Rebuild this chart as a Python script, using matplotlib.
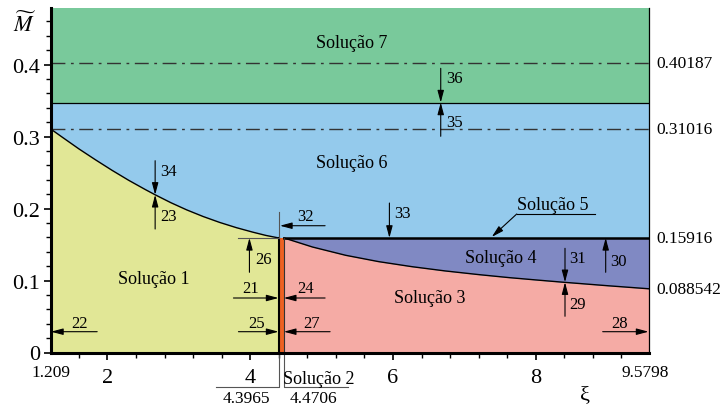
import numpy as np
import matplotlib
matplotlib.use("Agg")
import matplotlib.pyplot as plt
from matplotlib.ticker import MultipleLocator

plt.rcParams.update({
    "font.family": "serif",
    "font.serif": ["Liberation Serif", "DejaVu Serif"],
    "mathtext.fontset": "stix",
    "font.size": 12,
})

# --- data ---
XI_MIN, XI_MAX = 1.209, 9.5798
XI_A, XI_B = 4.3965, 4.4706          # limits of Solução 2
M_7 = 0.40187
M_6 = 0.31016
M_5 = 0.15916
M_END = 0.088542
M_TOP_SPLIT = 0.3472                 # boundary between Solução 6 and 7

# upper branch (Solução 1 / Solução 6 boundary)
xi_1 = [1.209, 1.369, 1.600, 1.833, 2.065, 2.297, 2.529, 2.669, 2.890,
        3.110, 3.340, 3.574, 3.806, 4.038, 4.220, 4.3965]
m_1 = [0.31016, 0.2989, 0.2828, 0.2676, 0.2530, 0.2392, 0.2264, 0.2190,
       0.2080, 0.1981, 0.1889, 0.1806, 0.1734, 0.1671, 0.1626, 0.15916]

# lower branch (Solução 3 / Solução 4 boundary)
xi_2 = [4.4706, 4.873, 5.338, 5.800, 6.266, 6.730, 7.200, 7.627, 8.000,
        8.360, 9.000, 9.5798]
m_2 = [0.15916, 0.1465, 0.1350, 0.1262, 0.1192, 0.1133, 0.1082, 0.1040,
       0.1008, 0.0978, 0.0928, 0.088542]

x_major = [2, 4, 6, 8]
y_major = [0, 0.1, 0.2, 0.3, 0.4]
y_major_labels = ["0", "0.1", "0.2", "0.3", "0.4"]
right_levels = [M_7, M_6, M_5, M_END]
right_labels = ["0.40187", "0.31016", "0.15916", "0.088542"]

c_green = "#79C99B"
c_blue = "#94CAEC"
c_yellow = "#E1E796"
c_purple = "#8089C3"
c_pink = "#F5ABA5"
c_orange = "#EE6122"

fig = plt.figure(figsize=(7.24, 4.10), dpi=100)
W, H = 724, 410
ax = fig.add_axes([51 / W, 1 - 353.5 / H, (648.5 - 51) / W, (353.5 - 9) / H])
ax.set_xlim(XI_MIN, XI_MAX)
ax.set_ylim(0, 0.4785)

# regions
ax.fill_between([XI_MIN, XI_MAX], M_TOP_SPLIT, 0.4785, color=c_green, lw=0)
ax.fill_between([XI_MIN, XI_MAX], 0, M_TOP_SPLIT, color=c_blue, lw=0)
ax.fill_between(xi_1, 0, m_1, color=c_yellow, lw=0)
ax.fill_between([XI_A, XI_B], 0, M_5, color=c_orange, lw=0)
ax.fill_between(xi_2, 0, m_2, color=c_pink, lw=0)
ax.fill_between(xi_2, m_2, M_5, color=c_purple, lw=0)

# boundaries
ax.plot(xi_1, m_1, color="k", lw=1.0)
ax.plot(xi_2, m_2, color="k", lw=1.0)
ax.plot([XI_B, XI_MAX], [M_5, M_5], color="k", lw=1.8)
ax.plot([XI_MIN, XI_MAX], [M_TOP_SPLIT, M_TOP_SPLIT], color="k", lw=0.9)
ax.plot([XI_A, XI_A], [0, M_5], color="k", lw=1.5)
ax.plot([XI_B, XI_B], [0, M_5], color="#333333", lw=0.8)
for lvl in (M_7, M_6):
    ax.plot([XI_MIN, XI_MAX], [lvl, lvl], color="#333333", lw=1.0,
            linestyle=(0, (10, 4, 2, 4)))

# spines and ticks
for s in ("left", "bottom"):
    ax.spines[s].set_linewidth(2.2)
ax.spines["right"].set_linewidth(0.9)
ax.spines["top"].set_visible(False)
ax.set_xticks(x_major)
ax.xaxis.set_minor_locator(MultipleLocator(0.4))
ax.set_yticks(y_major)
ax.set_yticklabels(y_major_labels)
ax.yaxis.set_minor_locator(MultipleLocator(0.02))
ax.tick_params(which="major", direction="out", length=5, width=1.2,
               labelsize=16, pad=3)
ax.tick_params(axis="x", which="major", pad=6)
ax.tick_params(which="minor", direction="out", length=3.5, width=1.0)
ax.tick_params(right=False, top=False)

aprops = dict(arrowstyle="-|>,head_length=0.6,head_width=0.16", color="k",
              lw=0.8, shrinkA=0, shrinkB=0, mutation_scale=12)


def arrow(x0, y0, x1, y1, num, tx, ty):
    ax.annotate("", xy=(x1, y1), xytext=(x0, y0), arrowprops=aprops)
    ax.text(tx, ty, num, ha="center", va="center", fontsize=12)


# horizontal arrows near the bottom
arrow(1.856, 0.0289, XI_MIN, 0.0289, "22", 1.604, 0.041)
arrow(3.835, 0.0289, XI_A, 0.0289, "25", 4.092, 0.041)
arrow(5.119, 0.0289, XI_B, 0.0289, "27", 4.863, 0.041)
arrow(8.938, 0.0289, XI_MAX, 0.0289, "28", 9.181, 0.041)
arrow(3.765, 0.0757, XI_A, 0.0757, "21", 4.008, 0.0896)
arrow(5.049, 0.0757, XI_B, 0.0757, "24", 4.769, 0.0896)
# vertical arrows
ax.plot([3.835, XI_A], [M_5, M_5], color="#555555", lw=0.8)
arrow(3.989, 0.1114, 3.989, M_5, "26", 4.185, 0.1299)
arrow(2.668, 0.1715, 2.668, 0.2190, "23", 2.854, 0.190)
arrow(2.668, 0.2664, 2.668, 0.2190, "34", 2.854, 0.2525)
ax.plot([XI_A, XI_A], [M_5, 0.195], color="#555555", lw=0.8)
arrow(5.049, 0.1761, XI_A + 0.02, 0.1761, "32", 4.769, 0.190)
arrow(5.950, 0.2076, 5.950, M_5, "33", 6.137, 0.1938)
arrow(8.41, 0.1447, 8.41, 0.0976, "31", 8.583, 0.1308)
arrow(8.41, 0.0503, 8.41, 0.0976, "29", 8.583, 0.0674)
arrow(8.98, 0.1114, 8.98, M_5, "30", 9.157, 0.1275)
arrow(6.669, 0.3947, 6.669, M_TOP_SPLIT, "36", 6.856, 0.3812)
arrow(6.669, 0.3003, 6.669, M_TOP_SPLIT, "35", 6.856, 0.3201)

# Solução 5 leader
ax.plot([8.831, 7.734], [0.1924, 0.1924], color="k", lw=0.8)
ax.annotate("", xy=(7.384, 0.1605), xytext=(7.734, 0.1924), arrowprops=aprops)

# region names
sol_kw = dict(ha="center", va="center", fontsize=13)
ax.text(5.428, 0.4308, "Solução 7", **sol_kw)
ax.text(5.427, 0.2642, "Solução 6", **sol_kw)
ax.text(8.236, 0.2049, "Solução 5", **sol_kw)
ax.text(7.514, 0.1322, "Solução 4", **sol_kw)
ax.text(6.513, 0.0757, "Solução 3", **sol_kw)
ax.text(2.654, 0.1021, "Solução 1", **sol_kw)
ax.text(4.958, -0.036, "Solução 2", clip_on=False, **sol_kw)

# right-hand level labels
for lvl, lab in zip(right_levels, right_labels):
    ax.text(9.695, lvl, lab, ha="left", va="center", fontsize=12.5,
            clip_on=False)

# extra abscissa labels under the axis
ax.text(XI_MIN, -0.0272, "1.209", ha="center", va="center", fontsize=12.5,
        clip_on=False)
ax.text(9.53, -0.0272, "9.5798", ha="center", va="center", fontsize=12.5,
        clip_on=False)
below = dict(color="#555555", lw=0.8, clip_on=False)
ax.plot([XI_A, XI_A, 3.522], [0, -0.0483, -0.0483], **below)
ax.plot([XI_B, XI_B, 5.371], [0, -0.0483, -0.0483], **below)
ax.text(3.952, -0.0632, "4.3965", ha="center", va="center", fontsize=12.5,
        clip_on=False)
ax.text(4.885, -0.0632, "4.4706", ha="center", va="center", fontsize=12.5,
        clip_on=False)
ax.text(8.69, -0.059, "ξ", ha="center", va="center", fontsize=16,
        clip_on=False)

fig.text(25 / W, 1 - 25 / H, r"$\widetilde{M}$", ha="center", va="center",
         fontsize=16)

fig.savefig("out.png", dpi=100)
